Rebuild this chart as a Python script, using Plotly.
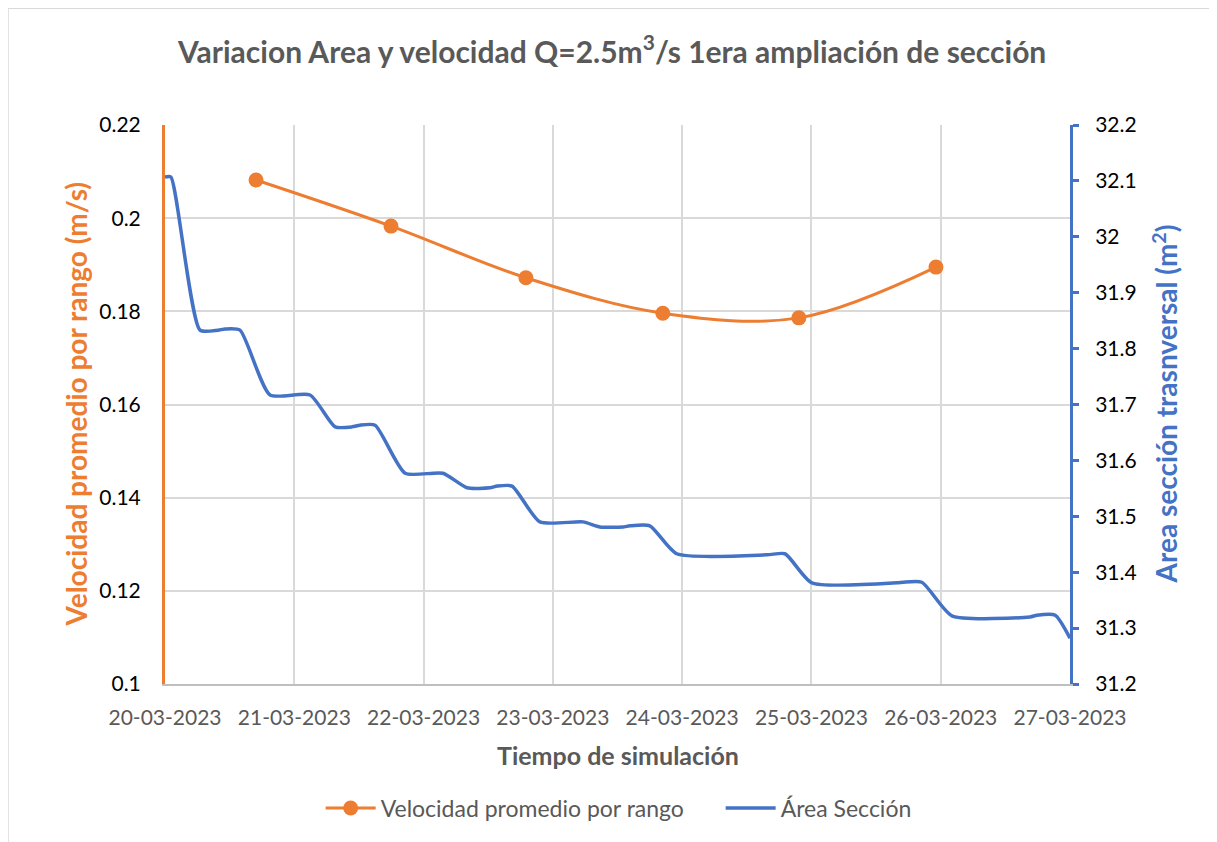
import plotly.graph_objects as go

# ---- data ----
vel_time = ["2023-03-20 16:54", "2023-03-21 17:57", "2023-03-22 19:00",
            "2023-03-23 20:25", "2023-03-24 21:40", "2023-03-25 23:07"]
vel_values = [0.2082, 0.1983, 0.1872, 0.1796, 0.1786, 0.1895]

area_time = ["2023-03-20 00:00", "2023-03-20 01:05", "2023-03-20 06:30", "2023-03-20 09:50",
             "2023-03-20 11:10", "2023-03-20 13:55", "2023-03-20 19:30", "2023-03-21 02:55",
             "2023-03-21 07:35", "2023-03-21 10:45", "2023-03-21 12:10", "2023-03-21 15:00",
             "2023-03-21 20:35", "2023-03-22 03:35", "2023-03-22 08:05", "2023-03-22 12:20",
             "2023-03-22 13:40", "2023-03-22 16:25", "2023-03-22 21:35", "2023-03-23 05:35",
             "2023-03-23 08:45", "2023-03-23 13:00", "2023-03-23 14:20", "2023-03-23 18:00",
             "2023-03-23 23:00", "2023-03-24 15:45", "2023-03-24 19:05", "2023-03-25 00:05",
             "2023-03-25 15:55", "2023-03-25 17:00", "2023-03-25 20:30", "2023-03-26 02:05",
             "2023-03-26 16:35", "2023-03-26 17:50", "2023-03-26 21:15", "2023-03-27 00:00"]
area_values = [32.107, 32.107, 31.833, 31.833, 31.835, 31.833, 31.717, 31.717,
               31.660, 31.660, 31.663, 31.663, 31.577, 31.577, 31.551, 31.551,
               31.554, 31.554, 31.490, 31.490, 31.481, 31.481, 31.483, 31.483,
               31.433, 31.431, 31.433, 31.381, 31.381, 31.382, 31.382, 31.322,
               31.320, 31.323, 31.323, 31.282]

title_text = "Variacion Area y velocidad Q=2.5m<sup>3</sup>/s 1era ampliación de sección"
x_title = "Tiempo de simulación"
y1_title = "Velocidad promedio por rango (m/s)"
y2_title = "Area sección trasnversal (m<sup>2</sup>)"

ORANGE = "#ED7D31"
BLUE = "#4472C4"
GRAY = "#595959"
FONT = "Lato"

fig = go.Figure()
fig.add_trace(go.Scatter(
    x=vel_time, y=vel_values, name="Velocidad promedio por rango",
    mode="lines+markers", line=dict(color=ORANGE, width=3, shape="spline", smoothing=1),
    marker=dict(size=15, color=ORANGE), yaxis="y"))
fig.add_trace(go.Scatter(
    x=area_time, y=area_values, name="Área Sección",
    mode="lines", line=dict(color=BLUE, width=3.5, shape="spline", smoothing=0.6),
    yaxis="y2"))

fig.update_layout(
    width=1209, height=834,
    margin=dict(l=157, r=147, t=117, b=158, autoexpand=False),
    paper_bgcolor="white", plot_bgcolor="white",
    font=dict(family=FONT, size=18, color="black"),
    showlegend=True,
    legend=dict(orientation="h", x=0.172, xanchor="left", y=-0.222, yanchor="middle",
                font=dict(size=23, color=GRAY), traceorder="normal",
                entrywidth=335, entrywidthmode="pixels", itemwidth=50),
    xaxis=dict(type="date", range=["2023-03-20", "2023-03-27"], dtick=86400000,
               tick0="2023-03-20", tickformat="%d-%m-%Y", showgrid=True,
               gridcolor="#d9d9d9", gridwidth=1.5, showline=True, linecolor="#bfbfbf",
               linewidth=1.5, ticks="", ticklabelstandoff=14,
               tickfont=dict(size=21, color=GRAY), zeroline=False),
    yaxis=dict(range=[0.1, 0.22], dtick=0.02, showgrid=True, gridcolor="#d9d9d9",
               gridwidth=1.5, showline=True, linecolor=ORANGE, linewidth=3, ticks="",
               ticklabelstandoff=17, tickfont=dict(size=21, color="black"), zeroline=False),
    yaxis2=dict(range=[31.2, 32.2], dtick=0.1, overlaying="y", side="right",
                showgrid=False, showline=True, linecolor=BLUE, linewidth=3,
                ticks="outside", ticklen=6, tickwidth=3, tickcolor=BLUE,
                ticklabelstandoff=12, tickfont=dict(size=21, color="black"), zeroline=False),
    annotations=[
        dict(text="<b>" + title_text + "</b>", xref="paper", yref="paper",
             x=0.493, y=1.136, xanchor="center", yanchor="middle", showarrow=False,
             font=dict(size=30, color=GRAY)),
        dict(text="<b>" + x_title + "</b>", xref="paper", yref="paper",
             x=0.5, y=-0.127, xanchor="center", yanchor="middle", showarrow=False,
             font=dict(size=25, color=GRAY)),
        dict(text="<b>" + y1_title + "</b>", xref="paper", yref="paper",
             x=-0.0994, y=0.5, xanchor="center", yanchor="middle", showarrow=False,
             textangle=-90, font=dict(size=28, color=ORANGE)),
        dict(text="<b>" + y2_title + "</b>", xref="paper", yref="paper",
             x=1.105, y=0.5, xanchor="center", yanchor="middle", showarrow=False,
             textangle=-90, font=dict(size=28, color=BLUE)),
    ],
    shapes=[dict(type="rect", xref="paper", yref="paper", x0=-0.1735, x1=1.1613,
                 y0=-0.3, y1=1.209, line=dict(color="#d9d9d9", width=1.5),
                 fillcolor="rgba(0,0,0,0)", layer="below")],
)

fig.write_html("out.html")
